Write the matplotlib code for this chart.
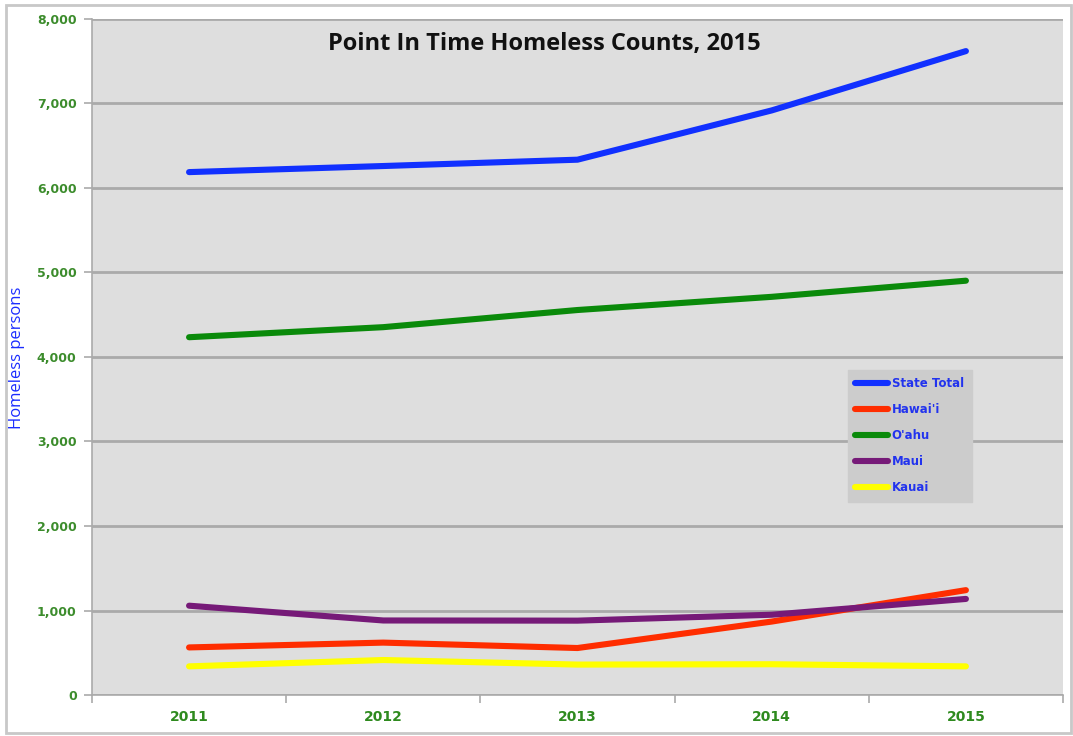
import matplotlib
matplotlib.use("Agg")
import matplotlib.pyplot as plt
import matplotlib.ticker as mticker
from matplotlib.patches import Rectangle

years = ["2011", "2012", "2013", "2014", "2015"]
state_total = [6188, 6260, 6335, 6918, 7620]
hawaii = [563, 620, 556, 869, 1241]
oahu = [4234, 4353, 4556, 4712, 4903]
maui = [1057, 882, 880, 950, 1137]
kauai = [339, 414, 360, 364, 339]

series = [
    ("State Total", state_total, "#1130ff"),
    ("Hawai'i", hawaii, "#ff2d00"),
    ("O'ahu", oahu, "#0a8a0a"),
    ("Maui", maui, "#761a78"),
    ("Kauai", kauai, "#ffff00"),
]

fig = plt.figure(figsize=(10.73, 7.36), dpi=100)
fig.patch.set_facecolor("white")
fig.add_artist(Rectangle((0.006, 0.004), 0.992, 0.989, transform=fig.transFigure,
                         fill=False, edgecolor="#c8c8c8", linewidth=2))

ax = fig.add_axes([0.0857, 0.0557, 0.905, 0.9185])
ax.set_facecolor("#dedede")

x = range(len(years))
for name, vals, col in series:
    ax.plot(list(x), vals, color=col, linewidth=4.4, label=name,
            solid_capstyle="round", solid_joinstyle="round", zorder=3)

ax.set_xlim(-0.5, len(years) - 0.5)
ax.set_ylim(0, 8000)
ax.yaxis.set_major_locator(mticker.MultipleLocator(1000))
ax.yaxis.set_major_formatter(mticker.FuncFormatter(lambda v, p: f"{int(v):,}"))
ax.grid(axis="y", color="#aaaaaa", linewidth=2, zorder=1)
ax.set_axisbelow(True)

ax.set_xticks(list(x))
ax.set_xticklabels(years)
ax.set_xticks([i - 0.5 for i in range(len(years) + 1)], minor=True)
ax.tick_params(axis="x", which="major", length=0, pad=11)
ax.tick_params(axis="x", which="minor", length=6, color="#aaaaaa", width=1.2)
ax.tick_params(axis="y", length=6, color="#aaaaaa", width=1.2, pad=5)
for lab in ax.get_xticklabels():
    lab.set_fontfamily("Liberation Sans Narrow")
    lab.set_fontweight("bold")
    lab.set_fontsize(10)
    lab.set_color("#2e8a1e")
for lab in ax.get_yticklabels():
    lab.set_fontfamily("DejaVu Sans")
    lab.set_fontweight("bold")
    lab.set_fontsize(9)
    lab.set_color("#3c8c2c")

for s in ["top", "right"]:
    ax.spines[s].set_visible(False)
for s in ["left", "bottom"]:
    ax.spines[s].set_color("#aaaaaa")
    ax.spines[s].set_linewidth(1.2)

ax.set_ylabel("Homeless persons", color="#1a2cff", fontsize=12, family="Open Sans")
ax.yaxis.set_label_coords(-0.069, 0.4985)

ax.text(0.466, 0.963, "Point In Time Homeless Counts, 2015", transform=ax.transAxes,
        ha="center", va="center", fontsize=17, fontweight="bold", family="Open Sans",
        color="#111111")

leg = ax.legend(loc="upper left", bbox_to_anchor=(0.772, 0.49), frameon=True,
                fancybox=False, handlelength=2.8, handletextpad=0.3,
                labelspacing=1.1, borderpad=0.65,
                prop={"family": "DejaVu Sans", "weight": "bold", "size": 8.5})
leg.get_frame().set_facecolor("#cccccc")
leg.get_frame().set_edgecolor("#cccccc")
leg.get_frame().set_alpha(1)
for t in leg.get_texts():
    t.set_color("#2233ee")

fig.savefig("out.png", dpi=100)
